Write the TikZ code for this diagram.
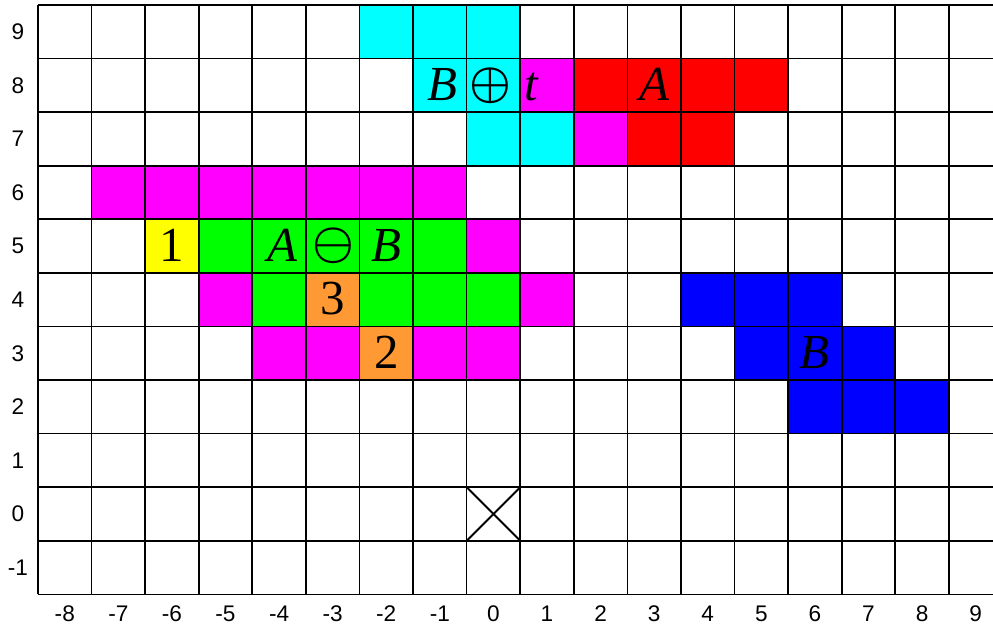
\documentclass[tikz,border=0pt]{standalone}
\usepackage{fontspec}
\usepackage{bm}
\setmainfont{Liberation Serif}
\newfontfamily\lblfont{Liberation Sans}
\definecolor{cyanc}{RGB}{0,255,255}
\definecolor{magc}{RGB}{255,0,255}
\definecolor{redc}{RGB}{255,0,0}
\definecolor{greenc}{RGB}{0,255,0}
\definecolor{yelc}{RGB}{255,255,0}
\definecolor{orac}{RGB}{255,153,51}
\definecolor{bluec}{RGB}{0,0,255}
\begin{document}
\begin{tikzpicture}[x=1cm,y=1cm,
  gridline/.style={line width=0.9pt,black},
  axislbl/.style={font=\lblfont\fontsize{12}{14}\selectfont,inner sep=0pt},
  biglbl/.style={font=\fontsize{26}{30}\selectfont,inner sep=0pt,anchor=base},
  symlbl/.style={font=\fontsize{31}{34}\selectfont,inner sep=0pt},
  crossline/.style={line width=1pt,black}]
\useasboundingbox (-9.209,-2.165) rectangle (9.324,9.593);
\begin{scope}
\clip (-9.209,-2.165) rectangle (9.324,9.593);
% cyan
\foreach \x/\y in {-2/9,-1/9,0/9,-1/8,0/8,0/7,1/7}
  \fill[cyanc] (\x-0.5,\y-0.5) rectangle ++(1,1);
% magenta
\foreach \x/\y in {1/8,2/7,-7/6,-6/6,-5/6,-4/6,-3/6,-2/6,-1/6,0/5,-5/4,1/4,-4/3,-3/3,-1/3,0/3}
  \fill[magc] (\x-0.5,\y-0.5) rectangle ++(1,1);
% red
\foreach \x/\y in {2/8,3/8,4/8,5/8,3/7,4/7}
  \fill[redc] (\x-0.5,\y-0.5) rectangle ++(1,1);
% green
\foreach \x/\y in {-5/5,-4/5,-3/5,-2/5,-1/5,-4/4,-2/4,-1/4,0/4}
  \fill[greenc] (\x-0.5,\y-0.5) rectangle ++(1,1);
% yellow / orange
\fill[yelc] (-6.5,4.5) rectangle ++(1,1);
\fill[orac] (-3.5,3.5) rectangle ++(1,1);
\fill[orac] (-2.5,2.5) rectangle ++(1,1);
% blue
\foreach \x/\y in {4/4,5/4,6/4,5/3,6/3,7/3,6/2,7/2,8/2}
  \fill[bluec] (\x-0.5,\y-0.5) rectangle ++(1,1);
% grid
\foreach \x in {-8.5,-7.5,...,9.5}
  \draw[gridline] (\x,-1.5) -- (\x,9.5);
\foreach \y in {-1.5,-0.5,...,9.5}
  \draw[gridline] (-8.5,\y) -- (9.5,\y);
\end{scope}
% cross at origin
\coordinate (xa) at (-0.5,-0.5);
\coordinate (xb) at (0.5,0.5);
\coordinate (xc) at (-0.5,0.5);
\coordinate (xd) at (0.5,-0.5);
\draw[crossline] (xa) -- (xb);
\draw[crossline] (xc) -- (xd);
% axis labels
\foreach \y in {-1,...,9}
  \node[axislbl] (r\y) at (-8.873,\y) {\y};
\foreach \x in {-8,...,9}
  \node[axislbl] (c\x) at (\x,-1.866) {\x};
% big labels
\node[biglbl] (bl) at (-0.96,7.72) {\textit{B}};
\node[symlbl] (opl) at (-0.06,8.0) {$\bm{\oplus}$};
\node[biglbl] (tl) at (0.72,7.72) {\textit{t}};
\node[biglbl] (al) at (3,7.72) {\textit{A}};
\node[biglbl] (a2) at (-3.94,4.72) {\textit{A}};
\node[symlbl] (om) at (-2.98,5.0) {$\bm{\ominus}$};
\node[biglbl] (b2) at (-2,4.72) {\textit{B}};
\node[biglbl] (n1) at (-6,4.72) {1};
\node[biglbl] (n3) at (-3,3.72) {3};
\node[biglbl] (n2) at (-2,2.72) {2};
\node[biglbl] (b3) at (6,2.72) {\textit{B}};
\end{tikzpicture}
\end{document}
